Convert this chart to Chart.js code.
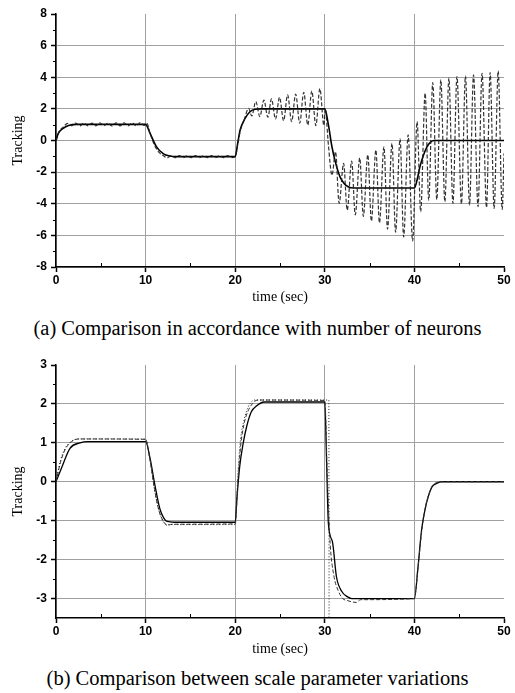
<!DOCTYPE html>
<html>
<head>
<meta charset="utf-8">
<script src="https://cdn.jsdelivr.net/npm/chart.js@4.4.1/dist/chart.umd.min.js"></script>
<style>
  body { margin: 0; background: #fff; }
  #page { position: relative; width: 515px; height: 693px; }
  .box { position: absolute; left: 0; width: 515px; }
  .caption {
    position: absolute; left: 0; width: 515px; text-align: center;
    font-family: "Liberation Serif", "Times New Roman", serif; font-size: 20.5px;
    line-height: 22px; color: #000; white-space: nowrap;
  }
</style>
</head>
<body>
<div id="page">
  <div class="box" style="top:0;height:306px"><canvas id="chartA"></canvas></div>
  <div class="caption" style="top:317px">(a) Comparison in accordance with number of neurons</div>
  <div class="box" style="top:351px;height:307px"><canvas id="chartB"></canvas></div>
  <div class="caption" style="top:667px">(b) Comparison between scale parameter variations</div>
</div>
<script>
// axis ticks
const xTicks = [0, 10, 20, 30, 40, 50];
const xMinor = [5, 15, 25, 35, 45];
const topTicks = [-8, -6, -4, -2, 0, 2, 4, 6, 8];
const topMinor = [-7, -5, -3, -1, 1, 3, 5, 7];
const botTicks = [-3, -2, -1, 0, 1, 2, 3];
const botMinor = [-2.5, -1.5, -0.5, 0.5, 1.5, 2.5];

// (a) reference trajectory
const topRefT = [0, 0.26, 0.8, 1.4, 2.3,
  10, 10.5, 11.2, 12.0, 12.7, 13.5,
  20, 20.3, 20.55, 21.1, 21.65, 22.2, 22.8,
  30, 30.4, 30.8, 31.2, 31.7, 32.2, 32.6, 33.2,
  40, 40.3, 40.6, 41.0, 41.4, 41.8, 42.2, 50];
const topRefY = [0, 0.45, 0.77, 0.95, 1.02,
  1.02, 0.45, -0.39, -0.85, -0.98, -1.02,
  -1.02, -0.1, 0.66, 1.4, 1.82, 1.98, 2.0,
  2.0, 1.0, -0.4, -1.4, -2.3, -2.75, -2.92, -3.0,
  -3.0, -2.5, -1.7, -0.95, -0.4, -0.1, 0, 0];

// (a) oscillating output
const topNetT = [0, 0.3, 0.8, 1.3, 1.75, 2.2, 2.65, 3.1, 3.55, 4.0, 4.45, 4.9, 5.35, 5.8, 6.25, 6.7, 7.15, 7.6, 8.05, 8.5, 8.95, 9.4, 9.85,
  10.15, 10.5, 11.0, 11.5, 12.0, 12.4, 12.85, 13.3, 13.75, 14.2, 14.65, 15.1, 15.55, 16.0, 16.45, 16.9, 17.35, 17.8, 18.25, 18.7, 19.15, 19.6, 20.0,
  20.3, 20.6, 21.0, 21.5, 21.85, 22.3, 22.75, 23.2, 23.65, 24.05, 24.5, 24.95, 25.4, 25.85, 26.3, 26.75, 27.2, 27.65, 28.1, 28.55, 29.0, 29.45, 29.9, 30.05,
  30.4, 30.8, 31.2, 31.6, 32.1, 32.5, 33.0, 33.4, 33.9, 34.3, 34.8, 35.2, 35.7, 36.1, 36.6, 37.0, 37.5, 37.9, 38.4, 38.8, 39.3, 39.8, 40.3,
  40.7, 41.2, 41.6, 42.05, 42.5, 42.95, 43.4, 43.85, 44.3, 44.75, 45.25, 45.7, 46.15, 46.6, 47.1, 47.55, 48.05, 48.45, 48.9, 49.35, 49.8, 50.0];
const topNetY = [0, 0.5, 0.85, 1.08, 0.93, 1.1, 0.92, 1.1, 0.93, 1.1, 0.92, 1.12, 0.93, 1.1, 0.92, 1.12, 0.92, 1.12, 0.93, 1.12, 0.92, 1.13, 0.95,
  1.08, 0.45, -0.3, -0.75, -0.97, -1.1, -0.96, -1.09, -0.96, -1.09, -0.96, -1.09, -0.96, -1.09, -0.96, -1.09, -0.96, -1.09, -0.96, -1.09, -0.96, -1.09, -1.0,
  -0.2, 0.7, 1.3, 2.04, 1.55, 2.46, 1.51, 2.56, 1.47, 2.63, 1.36, 2.73, 1.25, 2.88, 1.19, 2.94, 1.09, 3.05, 0.98, 3.13, 0.94, 3.28, 0.95, 2.0,
  -0.28, -2.2, -0.71, -3.97, -1.45, -4.4, -1.3, -4.7, -1.1, -4.8, -0.9, -5.1, -0.6, -5.2, -0.4, -5.6, -0.18, -5.8, 0.1, -6.1, 0.35, -6.35, 1.19,
  -4.5, 2.99, -3.77, 3.66, -3.73, 3.83, -3.87, 3.94, -3.97, 4.04, -4.0, 4.08, -4.08, 4.15, -4.18, 4.25, -4.24, 4.3, -4.29, 4.4, -4.35, -0.8];

// (b) three scale parameter settings
const botSolidT = [0, 0.63, 1.56, 2.7, 3.5, 10, 10.5, 11.05, 11.6, 12.0, 12.4, 13.2,
  20, 20.2, 20.5, 20.9, 21.3, 21.8, 22.4, 23.2,
  30, 30.2, 30.4, 30.85, 31.3, 31.9, 32.5, 33.0,
  40, 40.4, 40.8, 41.2, 41.55, 42.0, 42.5, 43.0, 50];
const botSolidY = [0, 0.36, 0.86, 1.0, 1.03, 1.03, 0.6, -0.1, -0.7, -0.92, -1.02, -1.04,
  -1.04, -0.4, 0.39, 1.0, 1.44, 1.8, 1.95, 2.05,
  2.05, 0.5, -1.07, -1.54, -2.44, -2.82, -2.95, -3.0,
  -3.0, -2.2, -1.24, -0.7, -0.38, -0.12, -0.04, 0, 0];

const botDashT = [0, 0.5, 1.0, 1.5, 2.0, 2.6, 10, 10.5, 11.0, 11.5, 12.0, 12.4, 13.0,
  20, 20.3, 20.6, 21.0, 21.4, 21.9, 22.5,
  30, 30.3, 30.6, 31.0, 31.5, 32.0, 32.5, 33.5, 34.0,
  40, 40.4, 40.8, 41.2, 41.6, 42.0, 42.5, 43.0, 50];
const botDashY = [0, 0.5, 0.82, 0.98, 1.07, 1.1, 1.09, 0.55, -0.2, -0.75, -1.02, -1.12, -1.09,
  -1.08, 0.0, 0.9, 1.5, 1.8, 2.0, 2.1,
  2.09, 0.0, -1.6, -2.4, -2.8, -3.0, -3.05, -3.1, -3.03,
  -3.0, -2.2, -1.3, -0.68, -0.33, -0.1, -0.02, 0, 0];

const botDotT = [0, 0.5, 1.0, 1.5, 2.0, 2.5, 10, 10.5, 11.0, 11.5, 12.0, 12.5,
  20, 20.3, 20.6, 21.0, 21.4, 21.8, 22.2, 30.45, 30.48];
const botDotY = [0, 0.55, 0.85, 1.0, 1.08, 1.1, 1.1, 0.55, -0.2, -0.75, -1.03, -1.1,
  -1.1, 0.2, 1.1, 1.6, 1.9, 2.05, 2.1, 2.1, -3.7];

const gridGray = "rgb(160,160,160)";
const pts = (t, v) => t.map((x, i) => ({ x: x, y: v[i] }));

const minorTicks = {
  id: "minorTicks",
  afterDraw(chart, args, opts) {
    const { ctx, chartArea, scales } = chart;
    ctx.save();
    ctx.strokeStyle = "#000";
    ctx.lineWidth = 1;
    ctx.beginPath();
    opts.x.forEach(v => {
      const px = Math.round(scales.x.getPixelForValue(v)) + 0.5;
      ctx.moveTo(px, chartArea.bottom);
      ctx.lineTo(px, chartArea.bottom - 4);
    });
    opts.y.forEach(v => {
      const py = Math.round(scales.y.getPixelForValue(v)) + 0.5;
      ctx.moveTo(chartArea.left, py);
      ctx.lineTo(chartArea.left - 3, py);
    });
    ctx.stroke();
    ctx.restore();
  }
};

function line(data, color, width, dash) {
  return {
    data: data,
    borderColor: color,
    borderWidth: width,
    borderDash: dash,
    pointRadius: 0,
    fill: false,
    cubicInterpolationMode: "monotone"
  };
}

function makeChart(id, datasets, yMin, yMax, yTicks, yMinor, xAxisHeight) {
  const tickFont = { family: "'Liberation Sans', Arial, sans-serif", weight: "bold", size: 12 };
  const titleFont = { family: "'Liberation Serif', serif", size: 14 };
  new Chart(document.getElementById(id), {
    type: "line",
    data: { datasets: datasets },
    plugins: [minorTicks],
    options: {
      responsive: true,
      maintainAspectRatio: false,
      animation: false,
      layout: { padding: { top: 14, right: 11, left: 10, bottom: 0 } },
      plugins: {
        legend: { display: false },
        tooltip: { enabled: false },
        minorTicks: { x: xMinor, y: yMinor }
      },
      scales: {
        x: {
          type: "linear",
          min: 0,
          max: 50,
          afterBuildTicks: s => { s.ticks = xTicks.map(v => ({ value: v })); },
          afterFit: s => { s.height = xAxisHeight; },
          grid: {
            color: c => (c.tick && c.tick.value === 50) ? "rgba(0,0,0,0)" : gridGray,
            lineWidth: 1,
            tickColor: "#000",
            tickWidth: 1.5,
            tickLength: 5
          },
          border: { color: "#000", width: 1.5 },
          ticks: { font: tickFont, color: "#000", padding: 1, maxRotation: 0, autoSkip: false },
          title: { display: true, text: "time (sec)", font: titleFont, color: "#000", padding: 0 }
        },
        y: {
          min: yMin,
          max: yMax,
          afterBuildTicks: s => { s.ticks = yTicks.map(v => ({ value: v })); },
          afterFit: s => { s.width = 46; },
          grid: {
            color: c => (c.tick && c.tick.value === yMax) ? "rgba(0,0,0,0)" : gridGray,
            lineWidth: 1,
            tickColor: "#000",
            tickWidth: 1.5,
            tickLength: 5
          },
          border: { color: "#000", width: 1.5 },
          ticks: { font: tickFont, color: "#000", padding: 4, autoSkip: false },
          title: { display: true, text: "Tracking", font: titleFont, color: "#000", padding: 0 }
        }
      }
    }
  });
}

makeChart("chartA", [
  line(pts(topNetT, topNetY), "rgba(30,30,30,0.9)", 1.2, [4, 2]),
  line(pts(topRefT, topRefY), "#000", 1.6, [])
], -8, 8, topTicks, topMinor, 39);

makeChart("chartB", [
  line(pts(botDotT, botDotY), "#222", 1, [1, 2]),
  line(pts(botDashT, botDashY), "#333", 1, [4, 2]),
  line(pts(botSolidT, botSolidY), "#000", 1.3, [])
], -3.5, 3, botTicks, botMinor, 40);
</script>
</body>
</html>
